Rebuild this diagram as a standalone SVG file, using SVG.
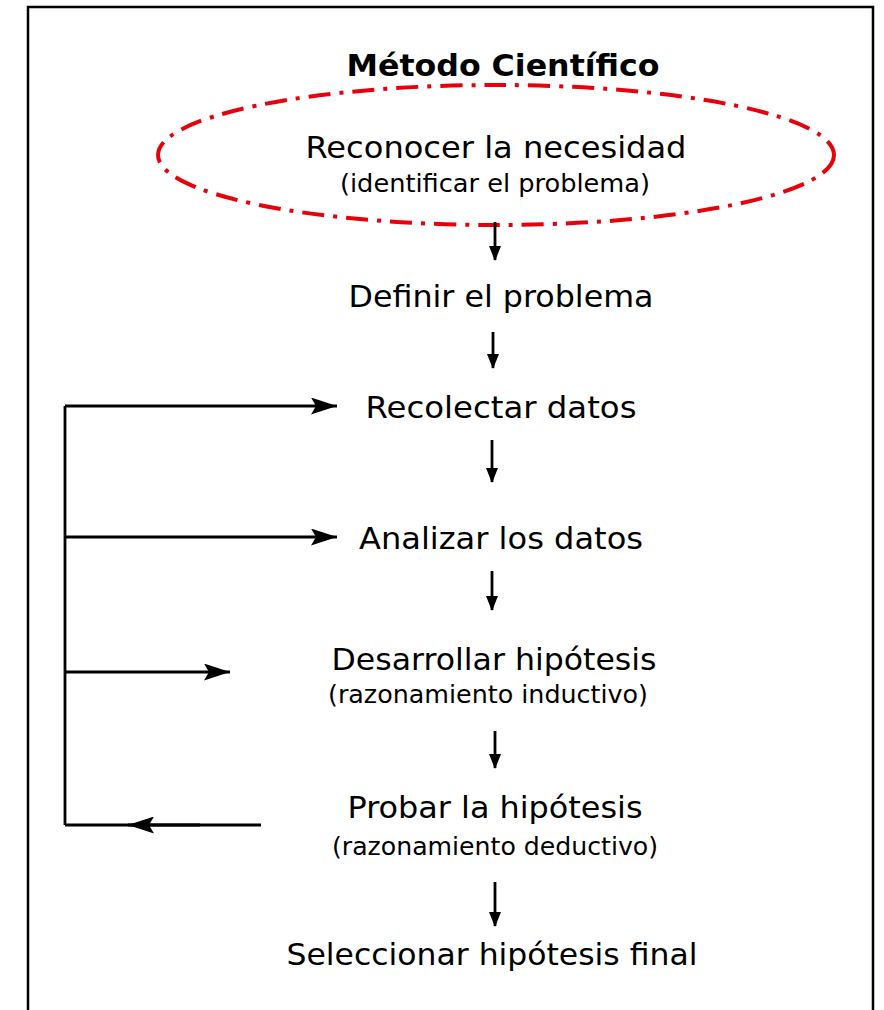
<svg xmlns="http://www.w3.org/2000/svg" width="884" height="1010" viewBox="0 0 884 1010">
<style>
.t{font-family:"DejaVu Sans","Noto Sans",sans-serif;fill:#000;text-anchor:middle}
.big{font-size:30px}
.small{font-size:24px}
.ttl{font-size:31px;font-weight:bold}
.ln{stroke:#000;stroke-width:2.8;fill:none}
</style>
<defs>
<marker id="ah" viewBox="0 0 15 12" refX="14" refY="6" markerWidth="15" markerHeight="12" markerUnits="userSpaceOnUse" orient="auto"><path d="M0,0 L15,6 L0,12 Z" fill="#000"/></marker>
<marker id="ahb" viewBox="0 0 26 17" refX="26" refY="8.5" markerWidth="26" markerHeight="17" markerUnits="userSpaceOnUse" orient="auto"><path d="M0,0 L26,8.5 L0,17 L5,8.5 Z" fill="#000"/></marker>
</defs>
<rect x="0" y="0" width="884" height="1010" fill="#fff"/>
<path d="M28,1012 V7 H873 V1012" fill="none" stroke="#000" stroke-width="2.5"/>
<g id="title"><text class="t ttl" x="503" y="76" textLength="313" lengthAdjust="spacingAndGlyphs">Método Científico</text></g>
<g id="n1">
<ellipse cx="496" cy="155" rx="338" ry="70" fill="none" stroke="#e8000b" stroke-width="4" stroke-dasharray="22 9 4 9"/>
<text class="t big" x="496" y="158" textLength="381" lengthAdjust="spacingAndGlyphs">Reconocer la necesidad</text>
<text class="t small" x="495" y="192" textLength="310" lengthAdjust="spacingAndGlyphs">(identificar el problema)</text>
</g>
<g id="n2"><text class="t big" x="501" y="307" textLength="305" lengthAdjust="spacingAndGlyphs">Definir el problema</text></g>
<g id="n3"><text class="t big" x="501" y="418" textLength="271" lengthAdjust="spacingAndGlyphs">Recolectar datos</text></g>
<g id="n4"><text class="t big" x="501" y="549" textLength="284" lengthAdjust="spacingAndGlyphs">Analizar los datos</text></g>
<g id="n5">
<text class="t big" x="494" y="670" textLength="325" lengthAdjust="spacingAndGlyphs">Desarrollar hipótesis</text>
<text class="t small" x="488" y="703" textLength="320" lengthAdjust="spacingAndGlyphs">(razonamiento inductivo)</text>
</g>
<g id="n6">
<text class="t big" x="495" y="818" textLength="295" lengthAdjust="spacingAndGlyphs">Probar la hipótesis</text>
<text class="t small" x="495" y="855" textLength="326" lengthAdjust="spacingAndGlyphs">(razonamiento deductivo)</text>
</g>
<g id="n7"><text class="t big" x="492" y="965" textLength="411" lengthAdjust="spacingAndGlyphs">Seleccionar hipótesis final</text></g>
<g id="connectors">
<line class="ln" x1="495" y1="222" x2="495" y2="260" marker-end="url(#ah)"/>
<line class="ln" x1="493" y1="332" x2="493" y2="368" marker-end="url(#ah)"/>
<line class="ln" x1="492" y1="440" x2="492" y2="482" marker-end="url(#ah)"/>
<line class="ln" x1="492" y1="571" x2="492" y2="610" marker-end="url(#ah)"/>
<line class="ln" x1="495" y1="731" x2="495" y2="768" marker-end="url(#ah)"/>
<line class="ln" x1="495" y1="882" x2="495" y2="926" marker-end="url(#ah)"/>
<path class="ln" d="M65,406 V825"/>
<line class="ln" x1="65" y1="406" x2="337" y2="406" marker-end="url(#ahb)"/>
<line class="ln" x1="65" y1="537" x2="337" y2="537" marker-end="url(#ahb)"/>
<line class="ln" x1="65" y1="672" x2="230" y2="672" marker-end="url(#ahb)"/>
<line class="ln" x1="261" y1="825" x2="65" y2="825"/>
<line class="ln" x1="200" y1="825" x2="128" y2="825" marker-end="url(#ahb)"/>
</g>
</svg>
